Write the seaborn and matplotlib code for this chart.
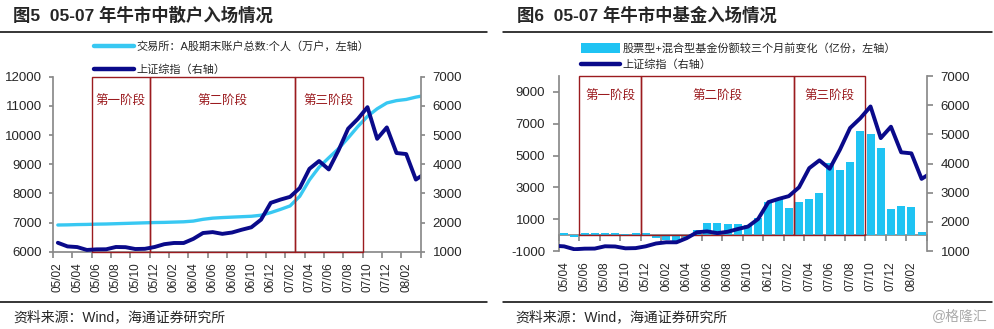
import numpy as np
import pandas as pd
import matplotlib
matplotlib.use("Agg")
import matplotlib.pyplot as plt
import seaborn as sns
from matplotlib.patches import Rectangle, Patch
from matplotlib.lines import Line2D

# ---------------- data ----------------
months = ['2005-02', '2005-03', '2005-04', '2005-05', '2005-06', '2005-07', '2005-08',
          '2005-09', '2005-10', '2005-11', '2005-12', '2006-01', '2006-02', '2006-03',
          '2006-04', '2006-05', '2006-06', '2006-07', '2006-08', '2006-09', '2006-10',
          '2006-11', '2006-12', '2007-01', '2007-02', '2007-03', '2007-04', '2007-05',
          '2007-06', '2007-07', '2007-08', '2007-09', '2007-10', '2007-11', '2007-12',
          '2008-01', '2008-02', '2008-03', '2008-04']
sse_index = [1306, 1181, 1159, 1060, 1080, 1083, 1162, 1155, 1092, 1099, 1161, 1258,
             1299, 1298, 1440, 1641, 1672, 1612, 1658, 1753, 1837, 2099, 2675, 2786,
             2881, 3183, 3841, 4109, 3820, 4471, 5218, 5552, 5955, 4871, 5262, 4383,
             4348, 3473, 3693]
accounts = [6915, 6920, 6930, 6935, 6945, 6950, 6960, 6970, 6980, 6990, 7000, 7005,
            7015, 7025, 7050, 7110, 7150, 7170, 7185, 7200, 7215, 7250, 7340, 7450,
            7570, 7900, 8460, 8900, 9220, 9530, 9900, 10290, 10640, 10900, 11100, 11180,
            11220, 11300, 11360]

fund_months = months[2:38]
fund_change = [150, -120, 120, 130, 110, 120, 100, 110, 120, -180, -290, -350,
               -200, 330, 750, 770, 700, 700, 650, 1050, 2080, 2280, 1700, 2080,
               2280, 2650, 4520, 4100, 4620, 6520, 6350, 5450, 1650, 1850, 1780, 200]

left_ticklabels = ['05/02', '05/04', '05/06', '05/08', '05/10', '05/12', '06/02', '06/04',
                   '06/06', '06/08', '06/10', '06/12', '07/02', '07/04', '07/06', '07/08',
                   '07/10', '07/12', '08/02']
right_ticklabels = ['05/04', '05/06', '05/08', '05/10', '05/12', '06/02', '06/04', '06/06',
                    '06/08', '06/10', '06/12', '07/02', '07/04', '07/06', '07/08', '07/10',
                    '07/12', '08/02']
stage_names = ['第一阶段', '第二阶段', '第三阶段']
stage_bounds = ['2005-06', '2005-12', '2007-03', '2007-10']

title_left = '图5  05-07 年牛市中散户入场情况'
title_right = '图6  05-07 年牛市中基金入场情况'
legend_left = ['交易所：A股期末账户总数:个人（万户，左轴）', '上证综指（右轴）']
legend_right = ['股票型+混合型基金份额较三个月前变化（亿份，左轴）', '上证综指（右轴）']
source_text = '资料来源：Wind，海通证券研究所'


def mnum(s):
    y, m = s.split('-')
    return int(y) * 12 + int(m) - 1


# ---------------- style ----------------
sns.set_theme(style="ticks")
plt.rcParams['font.family'] = ['Liberation Sans', 'Noto Sans CJK SC']
plt.rcParams['axes.unicode_minus'] = False

CYAN = '#38C8F2'
BAR = '#1FC3F3'
NAVY = '#0A0A8A'
GRAY = '#8A8A8A'
RED = '#9B1B1F'
W, H = 995, 329

fig = plt.figure(figsize=(9.95, 3.29), dpi=100)
fig.patch.set_facecolor('white')

axL = fig.add_axes([53 / W, 1 - 251.7 / H, 367.7 / W, 175 / H])
axR = fig.add_axes([559 / W, 1 - 251 / H, 367.7 / W, 175 / H])


def style_axes(ax, ax2):
    for s in ['top', 'right']:
        ax.spines[s].set_visible(False)
    for s in ['top', 'left', 'bottom']:
        ax2.spines[s].set_visible(False)
    ax.spines['left'].set_color(GRAY)
    ax.spines['bottom'].set_color(GRAY)
    ax2.spines['right'].set_color(GRAY)
    ax.set_xlabel('')
    ax.set_ylabel('')
    ax2.set_xlabel('')
    ax2.set_ylabel('')
    ax.set_facecolor('none')
    ax2.set_facecolor('none')


# ---------------- left chart ----------------
originL = mnum(months[0])
dfL = pd.DataFrame({'x': [mnum(m) - originL + 0.5 for m in months],
                    'acc': accounts, 'sse': sse_index})
sns.lineplot(data=dfL, x='x', y='acc', ax=axL, color=CYAN, lw=2.4, legend=False)
axL2 = axL.twinx()
sns.lineplot(data=dfL, x='x', y='sse', ax=axL2, color=NAVY, lw=2.8, legend=False)
nL = mnum(months[-2]) - originL + 1
axL.set_xlim(0, nL)
axL.set_ylim(6000, 12000)
axL.set_yticks(range(6000, 12001, 1000))
axL2.set_ylim(1000, 7000)
axL2.set_yticks(range(1000, 7001, 1000))
axL.set_xticks(np.arange(0, nL + 1, 2))
axL.set_xticklabels([])
axL.set_xticks(np.arange(0, nL, 2) + 0.5, minor=True)
axL.set_xticklabels(left_ticklabels, minor=True, rotation=90)
style_axes(axL, axL2)
axL.tick_params(axis='x', which='major', length=4, color=GRAY, direction='out')
axL.tick_params(axis='x', which='minor', length=0, pad=7.5, labelsize=8.5)
axL.tick_params(axis='y', length=3, color=GRAY, pad=5, labelsize=9.5)
axL2.tick_params(axis='y', length=3, color=GRAY, pad=5.5, labelsize=9.5)

for i, name in enumerate(stage_names):
    x0 = mnum(stage_bounds[i]) - originL
    x1 = mnum(stage_bounds[i + 1]) - originL
    axL.add_patch(Rectangle((x0, 6000), x1 - x0, 6000, fill=False,
                            edgecolor=RED, lw=1.0, zorder=5, clip_on=False))
    axL.text((x0 + x1) / 2, 0.857, name, transform=axL.get_xaxis_transform(),
             ha='center', va='center', color=RED, fontsize=9,
             family=['Noto Sans CJK SC'])

# ---------------- right chart ----------------
originR = mnum(fund_months[0])
dfR = pd.DataFrame({'x': [mnum(m) - originR + 0.5 for m in fund_months],
                    'chg': fund_change})
sns.barplot(data=dfR, x='x', y='chg', ax=axR, native_scale=True, color=BAR,
            saturation=1, width=0.78, errorbar=None, linewidth=0)
axR2 = axR.twinx()
dfR2 = pd.DataFrame({'x': [mnum(m) - originR + 0.5 for m in months], 'sse': sse_index})
sns.lineplot(data=dfR2, x='x', y='sse', ax=axR2, color=NAVY, lw=2.8, legend=False)
nR = len(fund_months)
axR.set_xlim(0, nR)
axR2.set_xlim(0, nR)
axR.set_ylim(-1000, 10000)
axR.set_yticks(range(-1000, 9001, 2000))
axR2.set_ylim(1000, 7000)
axR2.set_yticks(range(1000, 7001, 1000))
axR.set_xticks([])
axR.set_xticks(np.arange(0, nR, 2) + 0.5, minor=True)
axR.set_xticklabels(right_ticklabels, minor=True, rotation=90)
style_axes(axR, axR2)
axR.spines['bottom'].set_visible(False)
axR.tick_params(axis='x', which='minor', length=0, pad=7.5, labelsize=8.5)
axR.tick_params(axis='y', length=4, color=GRAY, pad=6, labelsize=9.5)
axR2.tick_params(axis='y', length=4, color=GRAY, pad=6, labelsize=9.5)

ylo, yhi = axR.get_ylim()
sec = axR.secondary_xaxis((0 - ylo) / (yhi - ylo))
sec.set_xticks(np.arange(0, nR + 1, 2))
sec.set_xticklabels([])
sec.tick_params(axis='x', length=4, color=GRAY, direction='out')
for s in sec.spines.values():
    s.set_color(GRAY)

for i, name in enumerate(stage_names):
    x0 = mnum(stage_bounds[i]) - originR
    x1 = mnum(stage_bounds[i + 1]) - originR
    axR.add_patch(Rectangle((x0, 0), x1 - x0, 10000, fill=False,
                            edgecolor=RED, lw=1.0, zorder=5, clip_on=False))
    axR.text((x0 + x1) / 2, 0.885, name, transform=axR.get_xaxis_transform(),
             ha='center', va='center', color=RED, fontsize=9,
             family=['Noto Sans CJK SC'])

# ---------------- legends ----------------
hL = [Line2D([], [], color=CYAN, lw=3.2), Line2D([], [], color=NAVY, lw=3.2)]
fig.legend(hL, legend_left, loc='upper left', bbox_to_anchor=(94 / W, 1 - 41 / H),
           frameon=False, fontsize=8, handlelength=3.6, handletextpad=0.25,
           labelspacing=1.15, borderpad=0, borderaxespad=0)
hR = [Patch(facecolor=BAR, edgecolor='none'), Line2D([], [], color=NAVY, lw=3.2)]
fig.legend(hR, legend_right, loc='upper left', bbox_to_anchor=(581 / W, 1 - 43 / H),
           frameon=False, fontsize=8, handlelength=3.5, handletextpad=0.25,
           labelspacing=0.5, borderpad=0, borderaxespad=0, handleheight=0.9)

# ---------------- titles, rules, source ----------------
fig.text(13 / W, 1 - 15 / H, title_left, fontsize=12.5, weight='bold', va='center')
fig.text(517 / W, 1 - 15 / H, title_right, fontsize=12.5, weight='bold', va='center')
for x0, x1 in [(0, 487), (503, 992)]:
    fig.add_artist(Line2D([x0 / W, x1 / W], [1 - 31.7 / H] * 2, color='black', lw=1.1))
    fig.add_artist(Line2D([x0 / W, x1 / W], [1 - 301.7 / H] * 2, color='black', lw=1.1))
fig.text(13 / W, 1 - 317 / H, source_text, fontsize=10, va='center')
fig.text(515 / W, 1 - 317 / H, source_text, fontsize=10, va='center')
fig.text(988 / W, 1 - 317 / H, '@格隆汇', fontsize=10, va='center', ha='right',
         color='#AAAAAA')

fig.savefig('out.png', dpi=100, facecolor='white')
